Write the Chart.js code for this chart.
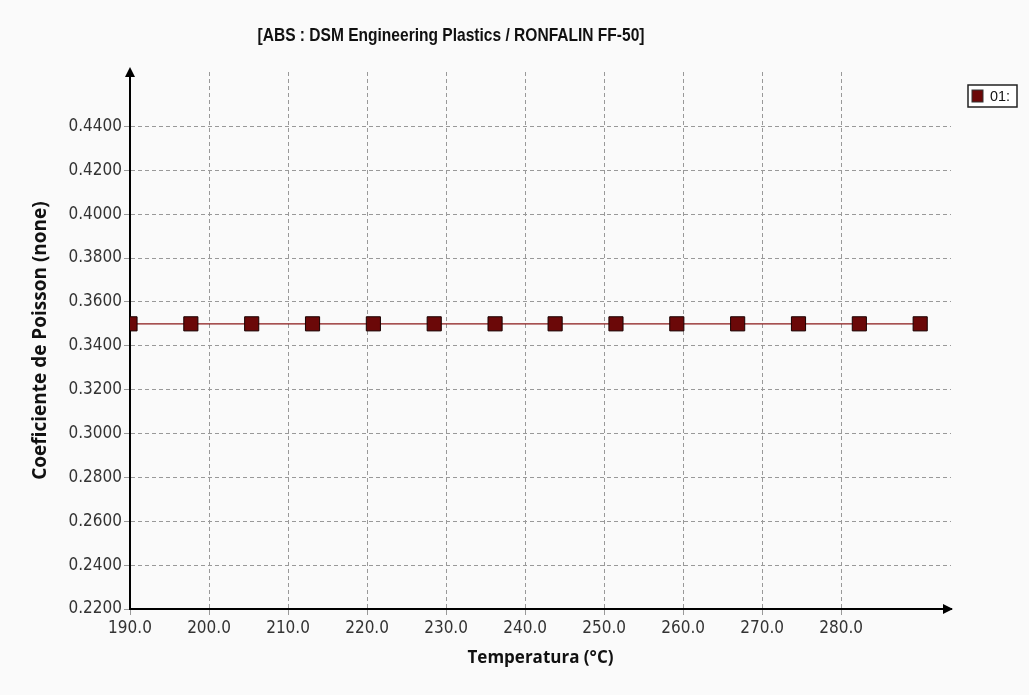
<!DOCTYPE html>
<html><head><meta charset="utf-8">
<script src="https://cdn.jsdelivr.net/npm/chart.js@4.4.1/dist/chart.umd.min.js"></script>
<style>html,body{margin:0;padding:0;background:#fafafa;}#wrap{width:1029px;height:695px;position:relative;}</style>
</head><body><div id="wrap"><canvas id="c" width="1029" height="695"></canvas></div>
<script>
const chartTitle = '[ABS : DSM Engineering Plastics / RONFALIN FF-50]';
const xAxisTitle = 'Temperatura (°C)';
const yAxisTitle = 'Coeficiente de Poisson (none)';
const seriesLabel = '01:';
const temperatures = [190.0, 197.7, 205.4, 213.1, 220.8, 228.5, 236.2, 243.8, 251.5, 259.2, 266.9, 274.6, 282.3, 290.0];
const poisson = [0.35, 0.35, 0.35, 0.35, 0.35, 0.35, 0.35, 0.35, 0.35, 0.35, 0.35, 0.35, 0.35, 0.35];
const xTickValues = [190, 200, 210, 220, 230, 240, 250, 260, 270, 280];
const yTickValues = [0.22, 0.24, 0.26, 0.28, 0.30, 0.32, 0.34, 0.36, 0.38, 0.40, 0.42, 0.44];
const xRange = [190, 293.9];
const yRange = [0.22, 0.4648];

const narrow = "'Liberation Sans Narrow', 'DejaVu Sans Condensed', 'Open Sans', sans-serif";

function condensedText(ctx, text, cx, cy, font, targetW) {
  ctx.save();
  ctx.font = font;
  const w = ctx.measureText(text).width;
  const k = Math.min(1, targetW / w);
  ctx.translate(cx, cy);
  ctx.scale(k, 1);
  ctx.textAlign = 'center'; ctx.textBaseline = 'middle';
  ctx.fillText(text, 0, 0);
  ctx.restore();
}

const decor = {
  id: 'decor',
  afterDraw(chart) {
    const ctx = chart.ctx, a = chart.chartArea;
    ctx.save();
    ctx.fillStyle = '#000';
    // y arrow
    ctx.beginPath();
    ctx.moveTo(a.left, a.top - 5);
    ctx.lineTo(a.left - 5, a.top + 5);
    ctx.lineTo(a.left + 5, a.top + 5);
    ctx.closePath(); ctx.fill();
    // x arrow
    ctx.beginPath();
    ctx.moveTo(a.right + 2, a.bottom);
    ctx.lineTo(a.right - 8, a.bottom - 5);
    ctx.lineTo(a.right - 8, a.bottom + 5);
    ctx.closePath(); ctx.fill();
    // title
    ctx.fillStyle = '#111';
    condensedText(ctx, chartTitle, 451, 36, "bold 19px 'Liberation Sans', Arial, sans-serif", 387);
    // legend
    const lx = 968, ly = 85, lw = 49, lh = 22;
    ctx.fillStyle = '#fff';
    ctx.fillRect(lx, ly, lw, lh);
    ctx.strokeStyle = '#222'; ctx.lineWidth = 1.5;
    ctx.strokeRect(lx, ly, lw, lh);
    const ds = chart.data.datasets[0];
    ctx.fillStyle = ds.pointBackgroundColor;
    ctx.fillRect(lx + 4, ly + 5, 11, 12);
    ctx.strokeStyle = '#333'; ctx.lineWidth = 1;
    ctx.strokeRect(lx + 4, ly + 5, 11, 12);
    ctx.fillStyle = '#111';
    condensedText(ctx, ds.label, lx + 32, ly + lh / 2 + 1, "15px 'Liberation Sans', Arial, sans-serif", 20);
    ctx.restore();
  }
};

new Chart(document.getElementById('c'), {
  type: 'line',
  data: {
    datasets: [{
      label: seriesLabel,
      data: temperatures.map((t, i) => ({x: t, y: poisson[i]})),
      borderColor: '#8a1818',
      borderWidth: 1.2,
      pointStyle: 'rect',
      pointRadius: 10,
      pointHoverRadius: 10,
      pointBackgroundColor: '#6b0808',
      pointBorderColor: '#1a0000',
      pointBorderWidth: 1,
      tension: 0
    }]
  },
  options: {
    responsive: false,
    animation: false,
    devicePixelRatio: 1,
    layout: {padding: {top: 72, right: 78, bottom: 20, left: 0}},
    plugins: {legend: {display: false}, title: {display: false}, tooltip: {enabled: false}},
    scales: {
      x: {
        type: 'linear', min: xRange[0], max: xRange[1],
        afterBuildTicks: s => { s.ticks = xTickValues.map(v => ({value: v})); },
        afterFit: s => { s.height = 66; },
        ticks: {callback: v => Number(v).toFixed(1), color: '#333', font: {family: narrow, size: 17}, padding: 3, maxRotation: 0, autoSkip: false},
        grid: {color: '#999', lineWidth: 1, tickLength: 6, tickColor: '#999', tickBorderDash: []},
        border: {display: true, color: '#000', width: 2, dash: [4, 3]},
        title: {display: true, text: xAxisTitle, color: '#111', font: {family: "'Open Sans', sans-serif", size: 17, weight: 'bold'}, padding: {top: 0, bottom: 7}}
      },
      y: {
        type: 'linear', min: yRange[0], max: yRange[1],
        afterBuildTicks: s => { s.ticks = yTickValues.map(v => ({value: v})); },
        afterFit: s => { s.width = 130; },
        ticks: {callback: v => Number(v).toFixed(4), color: '#333', font: {family: narrow, size: 17}, padding: 2},
        grid: {color: '#999', lineWidth: 1, tickLength: 6, tickColor: '#999', tickBorderDash: []},
        border: {display: true, color: '#000', width: 2, dash: [4, 3]},
        title: {display: true, text: yAxisTitle, color: '#111', font: {family: "'Open Sans', sans-serif", size: 19, weight: 'bold'}, padding: {top: 29, bottom: 0}}
      }
    }
  },
  plugins: [decor]
});
</script></body></html>
